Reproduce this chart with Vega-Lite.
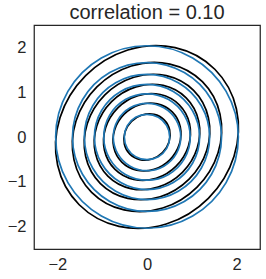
{
  "$schema": "https://vega.github.io/schema/vega-lite/v6.json",
  "width": 226,
  "height": 224,
  "autosize": "none",
  "padding": {"left": 34, "top": 25, "right": 6, "bottom": 30},
  "background": "white",
  "config": {
    "view": {"stroke": "#262626", "strokeWidth": 1.25},
    "font": "Liberation Sans"
  },
  "title": {"text": "correlation = 0.10", "fontSize": 20, "fontWeight": "normal", "font": "Liberation Sans", "color": "#262626", "anchor": "middle", "offset": 2},
  "datasets": {
    "black": [
      {"k":1,"i":0,"x":0.383,"y":0.383},{"k":1,"i":1,"x":0.505,"y":0.158},{"k":1,"i":2,"x":0.491,"y":-0.109},{"k":1,"i":3,"x":0.346,"y":-0.346},{"k":1,"i":4,"x":0.109,"y":-0.491},{"k":1,"i":5,"x":-0.158,"y":-0.505},{"k":1,"i":6,"x":-0.383,"y":-0.383},{"k":1,"i":7,"x":-0.505,"y":-0.158},{"k":1,"i":8,"x":-0.491,"y":0.109},{"k":1,"i":9,"x":-0.346,"y":0.346},{"k":1,"i":10,"x":-0.109,"y":0.491},{"k":1,"i":11,"x":0.158,"y":0.505},
      {"k":2,"i":0,"x":0.562,"y":0.562},{"k":2,"i":1,"x":0.741,"y":0.233},{"k":2,"i":2,"x":0.722,"y":-0.159},{"k":2,"i":3,"x":0.509,"y":-0.509},{"k":2,"i":4,"x":0.159,"y":-0.722},{"k":2,"i":5,"x":-0.233,"y":-0.741},{"k":2,"i":6,"x":-0.562,"y":-0.562},{"k":2,"i":7,"x":-0.741,"y":-0.233},{"k":2,"i":8,"x":-0.722,"y":0.159},{"k":2,"i":9,"x":-0.509,"y":0.509},{"k":2,"i":10,"x":-0.159,"y":0.722},{"k":2,"i":11,"x":0.233,"y":0.741},
      {"k":3,"i":0,"x":0.719,"y":0.719},{"k":3,"i":1,"x":0.948,"y":0.297},{"k":3,"i":2,"x":0.923,"y":-0.204},{"k":3,"i":3,"x":0.650,"y":-0.650},{"k":3,"i":4,"x":0.204,"y":-0.923},{"k":3,"i":5,"x":-0.297,"y":-0.948},{"k":3,"i":6,"x":-0.719,"y":-0.719},{"k":3,"i":7,"x":-0.948,"y":-0.297},{"k":3,"i":8,"x":-0.923,"y":0.204},{"k":3,"i":9,"x":-0.650,"y":0.650},{"k":3,"i":10,"x":-0.204,"y":0.923},{"k":3,"i":11,"x":0.297,"y":0.948},
      {"k":4,"i":0,"x":0.873,"y":0.873},{"k":4,"i":1,"x":1.151,"y":0.361},{"k":4,"i":2,"x":1.120,"y":-0.247},{"k":4,"i":3,"x":0.790,"y":-0.790},{"k":4,"i":4,"x":0.247,"y":-1.120},{"k":4,"i":5,"x":-0.361,"y":-1.151},{"k":4,"i":6,"x":-0.873,"y":-0.873},{"k":4,"i":7,"x":-1.151,"y":-0.361},{"k":4,"i":8,"x":-1.120,"y":0.247},{"k":4,"i":9,"x":-0.790,"y":0.790},{"k":4,"i":10,"x":-0.247,"y":1.120},{"k":4,"i":11,"x":0.361,"y":1.151},
      {"k":5,"i":0,"x":1.039,"y":1.039},{"k":5,"i":1,"x":1.369,"y":0.430},{"k":5,"i":2,"x":1.333,"y":-0.294},{"k":5,"i":3,"x":0.939,"y":-0.939},{"k":5,"i":4,"x":0.294,"y":-1.333},{"k":5,"i":5,"x":-0.430,"y":-1.369},{"k":5,"i":6,"x":-1.039,"y":-1.039},{"k":5,"i":7,"x":-1.369,"y":-0.430},{"k":5,"i":8,"x":-1.333,"y":0.294},{"k":5,"i":9,"x":-0.939,"y":0.939},{"k":5,"i":10,"x":-0.294,"y":1.333},{"k":5,"i":11,"x":0.430,"y":1.369},
      {"k":6,"i":0,"x":1.235,"y":1.235},{"k":6,"i":1,"x":1.628,"y":0.511},{"k":6,"i":2,"x":1.585,"y":-0.350},{"k":6,"i":3,"x":1.117,"y":-1.117},{"k":6,"i":4,"x":0.350,"y":-1.585},{"k":6,"i":5,"x":-0.511,"y":-1.628},{"k":6,"i":6,"x":-1.235,"y":-1.235},{"k":6,"i":7,"x":-1.628,"y":-0.511},{"k":6,"i":8,"x":-1.585,"y":0.350},{"k":6,"i":9,"x":-1.117,"y":1.117},{"k":6,"i":10,"x":-0.350,"y":1.585},{"k":6,"i":11,"x":0.511,"y":1.628},
      {"k":7,"i":0,"x":1.512,"y":1.512},{"k":7,"i":1,"x":1.994,"y":0.626},{"k":7,"i":2,"x":1.941,"y":-0.429},{"k":7,"i":3,"x":1.368,"y":-1.368},{"k":7,"i":4,"x":0.429,"y":-1.941},{"k":7,"i":5,"x":-0.626,"y":-1.994},{"k":7,"i":6,"x":-1.512,"y":-1.512},{"k":7,"i":7,"x":-1.994,"y":-0.626},{"k":7,"i":8,"x":-1.941,"y":0.429},{"k":7,"i":9,"x":-1.368,"y":1.368},{"k":7,"i":10,"x":-0.429,"y":1.941},{"k":7,"i":11,"x":0.626,"y":1.994}
    ],
    "blue": [
      {"k":1,"i":0,"x":0.506,"y":0},{"k":1,"i":1,"x":0.439,"y":0.253},{"k":1,"i":2,"x":0.253,"y":0.439},{"k":1,"i":3,"x":0,"y":0.506},{"k":1,"i":4,"x":-0.253,"y":0.439},{"k":1,"i":5,"x":-0.439,"y":0.253},{"k":1,"i":6,"x":-0.506,"y":0},{"k":1,"i":7,"x":-0.439,"y":-0.253},{"k":1,"i":8,"x":-0.253,"y":-0.439},{"k":1,"i":9,"x":0,"y":-0.506},{"k":1,"i":10,"x":0.253,"y":-0.439},{"k":1,"i":11,"x":0.439,"y":-0.253},
      {"k":2,"i":0,"x":0.752,"y":0},{"k":2,"i":1,"x":0.651,"y":0.376},{"k":2,"i":2,"x":0.376,"y":0.651},{"k":2,"i":3,"x":0,"y":0.752},{"k":2,"i":4,"x":-0.376,"y":0.651},{"k":2,"i":5,"x":-0.651,"y":0.376},{"k":2,"i":6,"x":-0.752,"y":0},{"k":2,"i":7,"x":-0.651,"y":-0.376},{"k":2,"i":8,"x":-0.376,"y":-0.651},{"k":2,"i":9,"x":0,"y":-0.752},{"k":2,"i":10,"x":0.376,"y":-0.651},{"k":2,"i":11,"x":0.651,"y":-0.376},
      {"k":3,"i":0,"x":0.964,"y":0},{"k":3,"i":1,"x":0.835,"y":0.482},{"k":3,"i":2,"x":0.482,"y":0.835},{"k":3,"i":3,"x":0,"y":0.964},{"k":3,"i":4,"x":-0.482,"y":0.835},{"k":3,"i":5,"x":-0.835,"y":0.482},{"k":3,"i":6,"x":-0.964,"y":0},{"k":3,"i":7,"x":-0.835,"y":-0.482},{"k":3,"i":8,"x":-0.482,"y":-0.835},{"k":3,"i":9,"x":0,"y":-0.964},{"k":3,"i":10,"x":0.482,"y":-0.835},{"k":3,"i":11,"x":0.835,"y":-0.482},
      {"k":4,"i":0,"x":1.173,"y":0},{"k":4,"i":1,"x":1.016,"y":0.586},{"k":4,"i":2,"x":0.586,"y":1.016},{"k":4,"i":3,"x":0,"y":1.173},{"k":4,"i":4,"x":-0.586,"y":1.016},{"k":4,"i":5,"x":-1.016,"y":0.586},{"k":4,"i":6,"x":-1.173,"y":0},{"k":4,"i":7,"x":-1.016,"y":-0.586},{"k":4,"i":8,"x":-0.586,"y":-1.016},{"k":4,"i":9,"x":0,"y":-1.173},{"k":4,"i":10,"x":0.586,"y":-1.016},{"k":4,"i":11,"x":1.016,"y":-0.586},
      {"k":5,"i":0,"x":1.397,"y":0},{"k":5,"i":1,"x":1.210,"y":0.698},{"k":5,"i":2,"x":0.698,"y":1.210},{"k":5,"i":3,"x":0,"y":1.397},{"k":5,"i":4,"x":-0.698,"y":1.210},{"k":5,"i":5,"x":-1.210,"y":0.698},{"k":5,"i":6,"x":-1.397,"y":0},{"k":5,"i":7,"x":-1.210,"y":-0.698},{"k":5,"i":8,"x":-0.698,"y":-1.210},{"k":5,"i":9,"x":0,"y":-1.397},{"k":5,"i":10,"x":0.698,"y":-1.210},{"k":5,"i":11,"x":1.210,"y":-0.698},
      {"k":6,"i":0,"x":1.662,"y":0},{"k":6,"i":1,"x":1.439,"y":0.831},{"k":6,"i":2,"x":0.831,"y":1.439},{"k":6,"i":3,"x":0,"y":1.662},{"k":6,"i":4,"x":-0.831,"y":1.439},{"k":6,"i":5,"x":-1.439,"y":0.831},{"k":6,"i":6,"x":-1.662,"y":0},{"k":6,"i":7,"x":-1.439,"y":-0.831},{"k":6,"i":8,"x":-0.831,"y":-1.439},{"k":6,"i":9,"x":0,"y":-1.662},{"k":6,"i":10,"x":0.831,"y":-1.439},{"k":6,"i":11,"x":1.439,"y":-0.831},
      {"k":7,"i":0,"x":2.037,"y":0},{"k":7,"i":1,"x":1.764,"y":1.018},{"k":7,"i":2,"x":1.018,"y":1.764},{"k":7,"i":3,"x":0,"y":2.037},{"k":7,"i":4,"x":-1.018,"y":1.764},{"k":7,"i":5,"x":-1.764,"y":1.018},{"k":7,"i":6,"x":-2.037,"y":0},{"k":7,"i":7,"x":-1.764,"y":-1.018},{"k":7,"i":8,"x":-1.018,"y":-1.764},{"k":7,"i":9,"x":0,"y":-2.037},{"k":7,"i":10,"x":1.018,"y":-1.764},{"k":7,"i":11,"x":1.764,"y":-1.018}
    ]
  },
  "encoding": {
    "x": {"field": "x", "type": "quantitative", "scale": {"domain": [-2.52, 2.52], "nice": false, "zero": false},
      "axis": {"title": null, "values": [-2, 0, 2], "grid": false, "domain": false, "ticks": false, "labelFontSize": 16.5, "labelColor": "#262626", "labelFont": "Liberation Sans", "labelPadding": 7, "labelFlush": false}},
    "y": {"field": "y", "type": "quantitative", "scale": {"domain": [-2.5, 2.5], "nice": false, "zero": false},
      "axis": {"title": null, "values": [-2, -1, 0, 1, 2], "grid": false, "domain": false, "ticks": false, "labelFontSize": 16.5, "labelColor": "#262626", "labelFont": "Liberation Sans", "labelPadding": 8, "labelFlush": false}},
    "detail": {"field": "k", "type": "nominal"},
    "order": {"field": "i", "type": "quantitative"}
  },
  "layer": [
    {"data": {"name": "black"}, "mark": {"type": "line", "interpolate": "cardinal-closed", "color": "#000000", "strokeWidth": 1.7}},
    {"data": {"name": "blue"}, "mark": {"type": "line", "interpolate": "cardinal-closed", "color": "#1f77b4", "strokeWidth": 1.7}}
  ]
}
